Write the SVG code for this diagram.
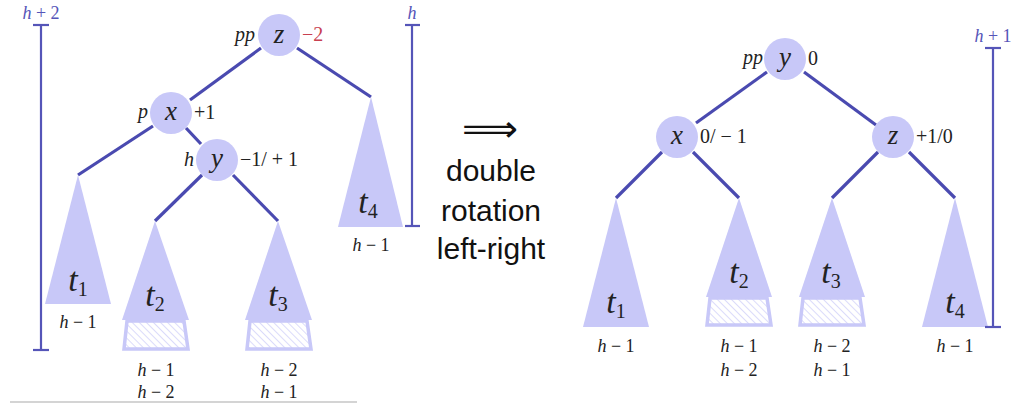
<svg xmlns="http://www.w3.org/2000/svg" width="1024" height="403" viewBox="0 0 1024 403">
<style>
.edge{stroke:#4a4ab0;stroke-width:3.2;fill:none}
.node{fill:#c8c8f8}
.tri{fill:#c8c8f8}
.trap{fill:url(#hatch);stroke:#c8c8f8;stroke-width:3.5}
.nl{font-family:"Liberation Serif","DejaVu Serif",serif;font-style:italic;font-size:27px;fill:#222;text-anchor:middle}
.lb{font-family:"Liberation Serif","DejaVu Serif",serif;font-size:20px;fill:#222}
.it{font-style:italic}
.ht{font-family:"Liberation Serif","DejaVu Serif",serif;font-size:18px;fill:#222;text-anchor:middle}
.tl{font-family:"Liberation Serif","DejaVu Serif",serif;font-style:italic;font-size:34px;fill:#222;text-anchor:middle}
.sub{font-style:normal;font-size:20px}
.br{stroke:#5555b8;stroke-width:2.2}
.bl{font-family:"Liberation Serif","DejaVu Serif",serif;font-size:18px;fill:#5555b8;text-anchor:middle}
.sans{font-family:"Liberation Sans",Arial,sans-serif;font-size:30px;fill:#111;text-anchor:middle}
</style>
<defs>
<pattern id="hatch" patternUnits="userSpaceOnUse" width="5" height="5" patternTransform="rotate(-45)">
<rect width="5" height="5" fill="#fff"/>
<line x1="0" y1="0" x2="0" y2="5" stroke="#c8c8f8" stroke-width="1.3"/>
</pattern>
</defs>
<rect width="1024" height="403" fill="#fff"/>

<g id="connectors">
<line class="edge" x1="261" y1="48" x2="190" y2="100"/>
<line class="edge" x1="297" y1="48" x2="371" y2="97"/>
<line class="edge" x1="153" y1="126" x2="78" y2="175"/>
<line class="edge" x1="186" y1="128" x2="201" y2="144"/>
<line class="edge" x1="202" y1="175" x2="155" y2="221"/>
<line class="edge" x1="233" y1="175" x2="278" y2="221"/>
<line class="edge" x1="767" y1="72" x2="696" y2="123"/>
<line class="edge" x1="804" y1="72" x2="876" y2="125"/>
<line class="edge" x1="662" y1="152" x2="616" y2="198"/>
<line class="edge" x1="693" y1="152" x2="739" y2="198"/>
<line class="edge" x1="878" y1="152" x2="832" y2="198"/>
<line class="edge" x1="909" y1="152" x2="955" y2="198"/>
</g>

<!-- left tree -->
<g id="z-left">
<circle class="node" cx="279" cy="35" r="21"/>
<text class="nl" x="279" y="43">z</text>
<text class="lb it" x="235" y="41" font-size="16">pp</text>
<text class="lb" x="302" y="41" style="fill:#c84050">−2</text>
</g>
<g id="x-left">
<circle class="node" cx="171" cy="113" r="21"/>
<text class="nl" x="171" y="120">x</text>
<text class="lb it" x="138" y="118" font-size="16">p</text>
<text class="lb" x="194" y="119">+1</text>
</g>
<g id="y-left">
<circle class="node" cx="217" cy="160" r="21"/>
<text class="nl" x="217" y="167">y</text>
<text class="lb it" x="184" y="166">h</text>
<text class="lb" x="240" y="166">−1/ + 1</text>
</g>
<g id="t1-left">
<polygon class="tri" points="78,175 111,304 45,304"/>
<text class="tl" x="78" y="291">t<tspan class="sub" dy="5">1</tspan></text>
<text class="ht" x="78" y="328"><tspan class="it">h</tspan> − 1</text>
</g>
<g id="t2-left">
<polygon class="trap" points="127,321 184,321 188,349 124,349"/>
<polygon class="tri" points="155,221 189,320 122,320"/>
<text class="tl" x="155" y="306">t<tspan class="sub" dy="5">2</tspan></text>
<text class="ht" x="156" y="376"><tspan class="it">h</tspan> − 1</text>
<text class="ht" x="156" y="398"><tspan class="it">h</tspan> − 2</text>
</g>
<g id="t3-left">
<polygon class="trap" points="250,321 307,321 311,349 247,349"/>
<polygon class="tri" points="278,221 312,320 245,320"/>
<text class="tl" x="278" y="306">t<tspan class="sub" dy="5">3</tspan></text>
<text class="ht" x="279" y="376"><tspan class="it">h</tspan> − 2</text>
<text class="ht" x="279" y="398"><tspan class="it">h</tspan> − 1</text>
</g>
<g id="t4-left">
<polygon class="tri" points="371,97 403,227 338,227"/>
<text class="tl" x="368" y="213">t<tspan class="sub" dy="5">4</tspan></text>
<text class="ht" x="371" y="251"><tspan class="it">h</tspan> − 1</text>
</g>
<g id="bracket-left">
<line class="br" x1="41" y1="25" x2="41" y2="350"/>
<line class="br" x1="33" y1="25" x2="49" y2="25"/>
<line class="br" x1="33" y1="350" x2="49" y2="350"/>
<text class="bl" x="41" y="19"><tspan class="it">h</tspan> + 2</text>
</g>
<g id="bracket-h">
<line class="br" x1="412" y1="25" x2="412" y2="226"/>
<line class="br" x1="405" y1="25" x2="420" y2="25"/>
<line class="br" x1="405" y1="226" x2="420" y2="226"/>
<text class="bl it" x="412" y="19">h</text>
</g>
<line x1="10" y1="402" x2="357" y2="402" stroke="#aaa" stroke-width="1.2"/>

<!-- middle -->
<g id="label-middle">
<text x="490" y="141" font-family="DejaVu Sans, sans-serif" font-size="36" text-anchor="middle" fill="#111" textLength="56" lengthAdjust="spacingAndGlyphs">⟹</text>
<text class="sans" x="491" y="181">double</text>
<text class="sans" x="491" y="221">rotation</text>
<text class="sans" x="491" y="259">left-right</text>
</g>

<!-- right tree -->
<g id="y-right">
<circle class="node" cx="785" cy="59" r="21"/>
<text class="nl" x="785" y="66">y</text>
<text class="lb it" x="743" y="64" font-size="16">pp</text>
<text class="lb" x="808" y="65">0</text>
</g>
<g id="x-right">
<circle class="node" cx="677" cy="137" r="21"/>
<text class="nl" x="677" y="144">x</text>
<text class="lb" x="700" y="143">0/ − 1</text>
</g>
<g id="z-right">
<circle class="node" cx="893" cy="137" r="21"/>
<text class="nl" x="893" y="144">z</text>
<text class="lb" x="916" y="143">+1/0</text>
</g>
<g id="t1-right">
<polygon class="tri" points="616,198 649,327 583,327"/>
<text class="tl" x="616" y="313">t<tspan class="sub" dy="5">1</tspan></text>
<text class="ht" x="616" y="352"><tspan class="it">h</tspan> − 1</text>
</g>
<g id="t2-right">
<polygon class="trap" points="710,298 767,298 771,325 707,325"/>
<polygon class="tri" points="739,198 772,297 706,297"/>
<text class="tl" x="739" y="283">t<tspan class="sub" dy="5">2</tspan></text>
<text class="ht" x="739" y="352"><tspan class="it">h</tspan> − 1</text>
<text class="ht" x="739" y="376"><tspan class="it">h</tspan> − 2</text>
</g>
<g id="t3-right">
<polygon class="trap" points="803,298 860,298 864,325 800,325"/>
<polygon class="tri" points="832,198 865,297 799,297"/>
<text class="tl" x="831" y="283">t<tspan class="sub" dy="5">3</tspan></text>
<text class="ht" x="832" y="352"><tspan class="it">h</tspan> − 2</text>
<text class="ht" x="832" y="376"><tspan class="it">h</tspan> − 1</text>
</g>
<g id="t4-right">
<polygon class="tri" points="955,198 988,327 922,327"/>
<text class="tl" x="955" y="313">t<tspan class="sub" dy="5">4</tspan></text>
<text class="ht" x="955" y="352"><tspan class="it">h</tspan> − 1</text>
</g>
<g id="bracket-right">
<line class="br" x1="993" y1="48" x2="993" y2="327"/>
<line class="br" x1="985" y1="48" x2="1001" y2="48"/>
<line class="br" x1="985" y1="327" x2="1001" y2="327"/>
<text class="bl" x="993" y="42"><tspan class="it">h</tspan> + 1</text>
</g>
</svg>
